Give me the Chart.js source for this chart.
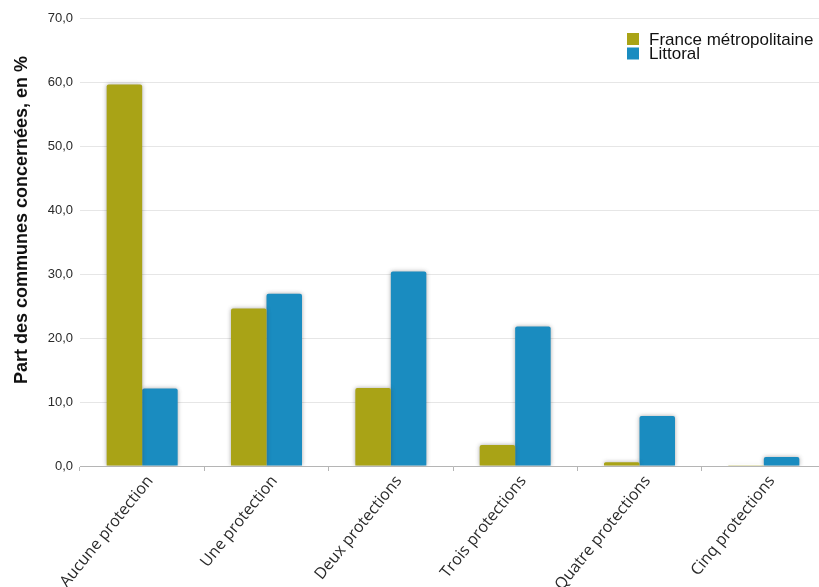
<!DOCTYPE html>
<html>
<head>
<meta charset="utf-8">
<script src="https://cdn.jsdelivr.net/npm/chart.js@4/dist/chart.umd.min.js"></script>
<style>
    html, body { margin: 0; padding: 0; overflow: hidden; background: #ffffff; }
    #wrap { position: relative; width: 826px; height: 587px; }
</style>
</head>
<body>
<div id="wrap"><canvas id="protChart"></canvas></div>
<script>
// --- DATA ---
const categories = ['Aucune protection', 'Une protection', 'Deux protections', 'Trois protections', 'Quatre protections', 'Cinq protections'];
const seriesNames = ['France métropolitaine', 'Littoral'];
const franceValues = [59.6, 24.6, 12.2, 3.3, 0.6, 0.1];
const littoralValues = [12.1, 26.9, 30.4, 21.8, 7.8, 1.4];
const yTicks = [0, 10, 20, 30, 40, 50, 60, 70];
const yTitle = 'Part des communes concernées, en %';

const OLIVE = '#a9a316';
const BLUE = '#1a8cc0';

// --- UTILITY: 10.0 -> "10,0" ---
function formatFr(v) {
    return v.toFixed(1).replace('.', ',');
}

// soft shadow round the bars
const barShadow = {
    id: 'barShadow',
    beforeDatasetsDraw(chart) {
        const ctx = chart.ctx;
        ctx.save();
        ctx.shadowColor = 'rgba(60,60,60,0.45)';
        ctx.shadowBlur = 4;
        ctx.shadowOffsetX = 0;
        ctx.shadowOffsetY = 0;
    },
    afterDatasetsDraw(chart) {
        chart.ctx.restore();
    }
};

// legend in the top right corner + y axis title
const extras = {
    id: 'extras',
    afterDraw(chart) {
        const ctx = chart.ctx;
        ctx.save();
        ctx.font = '17px "Liberation Sans", Arial, sans-serif';
        ctx.textBaseline = 'middle';
        chart.data.datasets.forEach((ds, i) => {
            const y = 33 + i * 14.5;
            ctx.fillStyle = ds.backgroundColor;
            ctx.fillRect(627, y, 12, 12);
            ctx.fillStyle = '#111111';
            ctx.fillText(ds.label, 649, y + 7);
        });

        ctx.translate(22, 220);
        ctx.rotate(-Math.PI / 2);
        ctx.font = 'bold 18px "Liberation Sans", Arial, sans-serif';
        ctx.textAlign = 'center';
        ctx.fillStyle = '#111111';
        ctx.fillText(yTitle, 0, 0);
        ctx.restore();
    }
};

const ctx = document.getElementById('protChart').getContext('2d');
const myChart = new Chart(ctx, {
    type: 'bar',
    data: {
        labels: categories,
        datasets: [
            { label: seriesNames[0], data: franceValues, backgroundColor: OLIVE },
            { label: seriesNames[1], data: littoralValues, backgroundColor: BLUE }
        ]
    },
    options: {
        responsive: true,
        maintainAspectRatio: false,
        animation: false,
        layout: { padding: { top: 18, left: 0, right: 0, bottom: 0 } },
        datasets: {
            bar: { categoryPercentage: 0.571, barPercentage: 1.0, borderRadius: 2, borderSkipped: 'bottom' }
        },
        plugins: {
            legend: { display: false },
            tooltip: { enabled: false }
        },
        scales: {
            x: {
                afterFit: s => { s.height = 121; },
                grid: { display: true, drawOnChartArea: false, offset: true, tickLength: 5, color: '#b5b5b5' },
                border: { display: true, color: '#b5b5b5' },
                ticks: {
                    autoSkip: false,
                    minRotation: 51,
                    maxRotation: 51,
                    padding: 1,
                    labelOffset: 8,
                    color: '#2a2a2a',
                    font: { family: '"Open Sans", sans-serif', size: 16 }
                }
            },
            y: {
                min: 0,
                max: 70,
                afterFit: s => { s.width = 80; },
                afterBuildTicks: s => { s.ticks = yTicks.map(v => ({ value: v })); },
                grid: { color: '#e6e6e6', drawTicks: false },
                border: { display: false },
                ticks: {
                    padding: 7,
                    color: '#2a2a2a',
                    font: { family: '"Liberation Sans", Arial, sans-serif', size: 13 },
                    callback: v => formatFr(v)
                }
            }
        }
    },
    plugins: [barShadow, extras]
});
</script>
</body>
</html>
